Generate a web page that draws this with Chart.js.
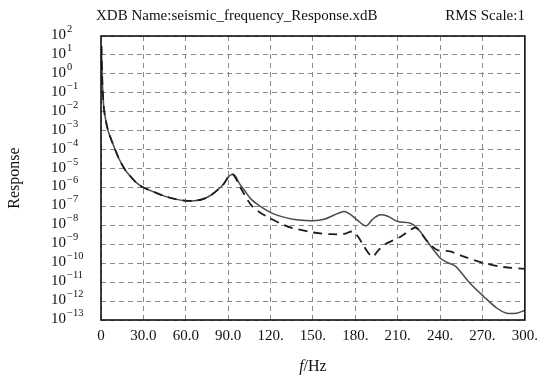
<!DOCTYPE html>
<html lang="en">
<head>
  <meta charset="UTF-8" />
  <title>seismic_frequency_Response</title>
  <style>
    body {
      margin: 0;
      background-color: #ffffff;
    }
    canvas {
      display: block;
    }
  </style>
</head>
<body>
  <canvas id="response-chart" width="545" height="381"></canvas>

  <script src="https://cdn.jsdelivr.net/npm/chart.js"></script>
  <script>
    // Values.
    const solidFreq = [0.3, 1, 2, 3, 5, 7.5, 10, 13, 16.5, 20, 25, 30, 38, 45, 52, 60, 66, 72, 78, 83, 87, 90, 93,
      95, 98, 102, 106, 112, 121, 132, 140, 150, 158, 165, 172, 176, 181, 187.5, 192, 197, 203, 210, 219, 224,
      231, 240, 245, 251, 261, 271, 280, 287, 294, 300];
    const solidResp = [3e1, 3e-1, 1.6e-2, 5e-3, 1e-3, 3e-4, 1e-4, 3e-5, 1e-5, 4.5e-6, 1.8e-6, 1e-6, 5.6e-7, 3.5e-7,
      2.5e-7, 2e-7, 2e-7, 2.4e-7, 4e-7, 8e-7, 1.6e-6, 3.5e-6, 5e-6,
      4e-6, 1.6e-6, 6.3e-7, 2.5e-7, 1.1e-7, 4.4e-8, 2.4e-8, 1.9e-8, 1.75e-8, 2.1e-8, 3.5e-8, 5.4e-8, 4e-8, 2e-8,
      9.3e-9, 2e-8, 3.5e-8, 3e-8, 1.6e-8, 1.3e-8, 7e-9,
      1.4e-9, 1.9e-10, 1.1e-10, 6.8e-11, 9e-12, 1.7e-12, 4.3e-13, 2.3e-13, 2.3e-13, 3.2e-13];

    const dashedFreq = [0.3, 1, 2, 3, 5, 7.5, 10, 13, 16.5, 20, 25, 30, 38, 45, 52, 60, 66, 72, 78, 83, 87, 90, 93,
      95, 98, 101, 106, 112, 119, 127, 135, 150, 163, 172, 178, 182, 186, 192, 196, 200.5, 212, 222, 225,
      231, 238, 247, 257, 271, 285, 300];
    const dashedResp = [3e1, 3e-1, 1.6e-2, 5e-3, 1e-3, 3e-4, 1e-4, 3e-5, 1e-5, 4.5e-6, 1.8e-6, 1e-6, 5.6e-7, 3.5e-7,
      2.5e-7, 2e-7, 2e-7, 2.4e-7, 4e-7, 8e-7, 1.6e-6, 3.5e-6, 5e-6,
      3.5e-6, 1.25e-6, 5e-7, 1.25e-7, 5e-8, 2.5e-8, 1.25e-8, 7.4e-9, 4.2e-9, 3.4e-9, 3.5e-9, 4.7e-9, 2.5e-9,
      8e-10, 2.2e-10, 4.5e-10, 9.3e-10, 2.5e-9, 7.6e-9, 5.6e-9,
      1.4e-9, 5e-10, 4.2e-10, 2.2e-10, 1e-10, 6.3e-11, 5e-11];

    const xTickLabels = ['0', '30.0', '60.0', '90.0', '120.', '150.', '180.', '210.', '240.', '270.', '300.'];
    const yExponents = [2, 1, 0, -1, -2, -3, -4, -5, -6, -7, -8, -9, -10, -11, -12, -13];

    const chartTitle = 'XDB Name:seismic_frequency_Response.xdB';
    const scaleNote = 'RMS Scale:1';
    const yTitle = 'Response';

    const serif = "'Liberation Serif', 'Times New Roman', serif";

    const toPoints = (xs, ys) => xs.map((x, i) => ({ x: x, y: ys[i] }));

    // Draws the frame, titles and the 10^n tick labels.
    const decorations = {
      id: 'decorations',
      afterDraw(chart) {
        const ctx = chart.ctx;
        const area = chart.chartArea;
        const yScale = chart.scales.y;

        ctx.save();
        ctx.strokeStyle = '#111';
        ctx.lineWidth = 1.6;
        ctx.strokeRect(area.left, area.top, area.right - area.left, area.bottom - area.top);

        ctx.fillStyle = '#111';
        ctx.textBaseline = 'alphabetic';

        // y tick labels with superscript exponents
        yExponents.forEach(e => {
          const y = yScale.getPixelForValue(Number('1e' + e));
          ctx.font = '15px ' + serif;
          ctx.textAlign = 'left';
          ctx.fillText('10', 51, y + 3);
          const w = ctx.measureText('10').width;
          ctx.font = '10.5px ' + serif;
          ctx.fillText(String(e).replace('-', '\u2212'), 51 + w + 1, y - 4);
        });

        // header
        ctx.font = '15px ' + serif;
        ctx.textAlign = 'left';
        ctx.fillText(chartTitle, 96, 20);
        ctx.textAlign = 'right';
        ctx.fillText(scaleNote, area.right, 20);

        // x title: italic f
        ctx.textAlign = 'left';
        ctx.font = 'italic 16px ' + serif;
        const fw = ctx.measureText('f').width;
        ctx.font = '16px ' + serif;
        const hw = ctx.measureText('/Hz').width;
        const cx = (area.left + area.right) / 2;
        const startX = cx - (fw + hw) / 2;
        ctx.font = 'italic 16px ' + serif;
        ctx.fillText('f', startX, 371);
        ctx.font = '16px ' + serif;
        ctx.fillText('/Hz', startX + fw, 371);

        // y title
        ctx.translate(19, (area.top + area.bottom) / 2);
        ctx.rotate(-Math.PI / 2);
        ctx.textAlign = 'center';
        ctx.font = '16px ' + serif;
        ctx.fillText(yTitle, 0, 0);
        ctx.restore();
      }
    };

    new Chart(document.getElementById('response-chart'), {
      type: 'line',
      data: {
        datasets: [
          {
            label: 'dashed',
            data: toPoints(dashedFreq, dashedResp),
            borderColor: '#1e1e1e',
            borderWidth: 1.8,
            borderDash: [9, 6],
            pointRadius: 0,
            fill: false,
            tension: 0.3
          },
          {
            label: 'solid',
            data: toPoints(solidFreq, solidResp),
            borderColor: '#4a4a4a',
            borderWidth: 1.5,
            pointRadius: 0,
            fill: false,
            tension: 0.3
          }
        ]
      },
      options: {
        responsive: false,
        animation: false,
        devicePixelRatio: 1,
        layout: { padding: { top: 36, right: 17, left: 0, bottom: 0 } },
        plugins: {
          legend: { display: false },
          tooltip: { enabled: false }
        },
        scales: {
          x: {
            type: 'linear',
            min: 0,
            max: 300,
            afterBuildTicks: scale => {
              scale.ticks = xTickLabels.map((_, i) => ({ value: i * 30 }));
            },
            afterFit: scale => { scale.height = 61; },
            ticks: {
              padding: 7,
              maxRotation: 0,
              autoSkip: false,
              color: '#111',
              font: { family: serif, size: 15 },
              callback: (value, index) => xTickLabels[index]
            },
            grid: { color: '#8a8a8a', lineWidth: 1, drawTicks: false },
            border: { display: false, dash: [5, 4] }
          },
          y: {
            type: 'logarithmic',
            min: 1e-13,
            max: 1e2,
            afterBuildTicks: scale => {
              scale.ticks = yExponents.map(e => ({ value: Number('1e' + e) }));
            },
            afterFit: scale => { scale.width = 101; },
            ticks: {
              autoSkip: false,
              callback: () => ''
            },
            grid: { color: '#8a8a8a', lineWidth: 1, drawTicks: false },
            border: { display: false, dash: [5, 4] }
          }
        }
      },
      plugins: [decorations]
    });
  </script>
</body>
</html>
